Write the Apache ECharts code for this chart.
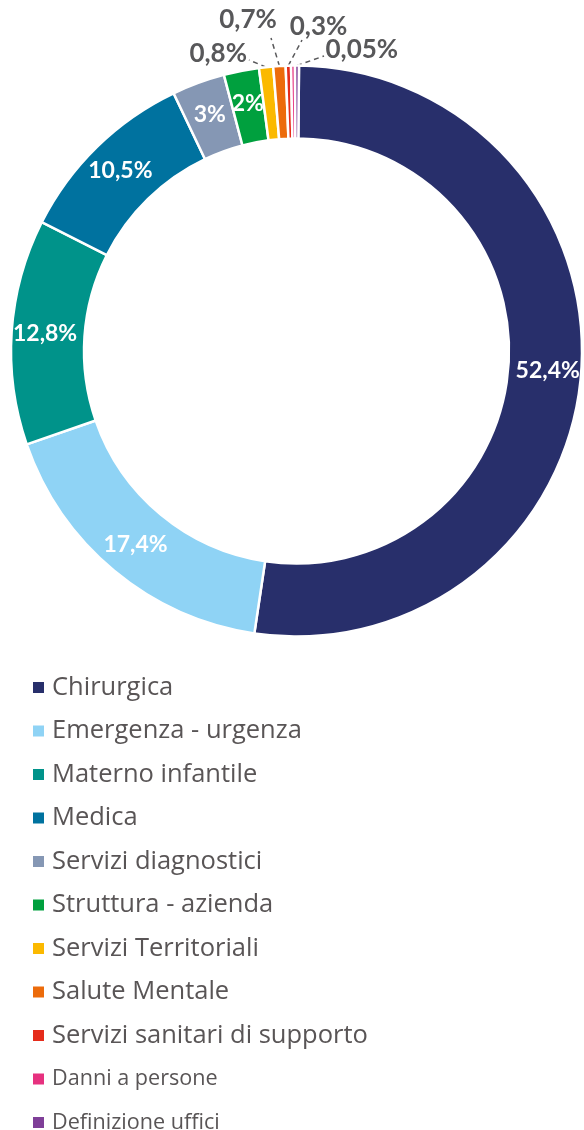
<!DOCTYPE html>
<html><head><meta charset="utf-8">
<script src="https://cdn.jsdelivr.net/npm/echarts@6/dist/echarts.min.js"></script>
<style>html,body{margin:0;padding:0;background:#fff}#c{width:584px;height:1130px}</style>
</head><body><div id="c"></div>
<script>
const categories = ['Chirurgica','Emergenza - urgenza','Materno infantile','Medica','Servizi diagnostici','Struttura - azienda','Servizi Territoriali','Salute Mentale','Servizi sanitari di supporto','Danni a persone','Definizione uffici'];
const values = [52.4, 17.4, 12.8, 10.5, 3, 2, 0.8, 0.7, 0.3, 0.05, 0.05];
const colors = ['#282f6b','#8fd3f5','#00938a','#00729f','#8597b4','#00a03e','#fbb900','#ec6b0b','#e52c1b','#e6317f','#7f3f98'];
const outsideLabels = ['Servizi Territoriali','Salute Mentale','Servizi sanitari di supporto','Definizione uffici'];
const hiddenLabels = ['Danni a persone'];
const smallLegend = ['Danni a persone','Definizione uffici'];

const pieCenter = [296.5, 351];
// placement of outside labels relative to the pie centre (layout only)
const outerPlacement = {
  'Servizi Territoriali':          {line:[-47.5, -291], label:[-49.5, -297], align:'right'},
  'Salute Mentale':               {line:[-25.5, -313], label:[-48.5, -331], align:'center'},
  'Servizi sanitari di supporto': {line:[5.5, -311],   label:[22, -324],    align:'center'},
  'Definizione uffici':           {line:[27.5, -295],  label:[29, -301],    align:'left'}
};

const fmt = v => String(v).replace('.', ',') + '%';

const pieData = categories.map((name, i) => {
  const item = { name: name, value: values[i], itemStyle: { color: colors[i] } };
  if (outsideLabels.includes(name)) {
    item.label = { show: true, position: 'outside', color: '#58585a', fontSize: 26, fontWeight: 'bold', fontFamily: 'Lato' };
    item.labelLine = { show: true, length: 10, length2: 0, lineStyle: { color: '#58585a', width: 1.5, type: [5, 4] } };
  } else if (hiddenLabels.includes(name)) {
    item.label = { show: false };
    item.labelLine = { show: false };
  }
  return item;
});

const legendData = categories.map(name => smallLegend.includes(name)
  ? { name: name, textStyle: { fontSize: 21.6 } }
  : { name: name });

const chart = echarts.init(document.getElementById('c'));
chart.setOption({
  animation: false,
  color: colors,
  legend: {
    orient: 'vertical',
    left: 31, top: 674, height: 600,
    padding: 0,
    itemWidth: 13, itemHeight: 13,
    icon: 'rect',
    itemGap: 16.5,
    selectedMode: false,
    data: legendData,
    textStyle: { fontSize: 25.5, color: '#595556', fontFamily: 'Open Sans', lineHeight: 27, padding: [0, 0, 0, 2] }
  },
  series: [{
    type: 'pie',
    center: pieCenter,
    radius: [212.5, 285.5],
    startAngle: 89.5,
    clockwise: true,
    minAngle: 0.8,
    avoidLabelOverlap: false,
    itemStyle: { borderWidth: 2.5, borderColor: '#ffffff' },
    label: {
      show: true, position: 'inside',
      color: '#ffffff', fontSize: 23, fontWeight: 'bold', fontFamily: 'Lato',
      formatter: p => fmt(p.value)
    },
    labelLine: { show: false },
    emphasis: { disabled: true },
    labelLayout: function (params) {
      const name = categories[params.dataIndex];
      const cfg = outerPlacement[name];
      if (!cfg || !params.labelLinePoints) return {};
      const P = params.labelLinePoints[0];
      const e = [pieCenter[0] + cfg.line[0], pieCenter[1] + cfg.line[1]];
      return {
        x: pieCenter[0] + cfg.label[0], y: pieCenter[1] + cfg.label[1],
        align: cfg.align, verticalAlign: 'middle',
        labelLinePoints: [[P[0], P[1]], e, e]
      };
    },
    data: pieData
  }]
});
</script></body></html>
